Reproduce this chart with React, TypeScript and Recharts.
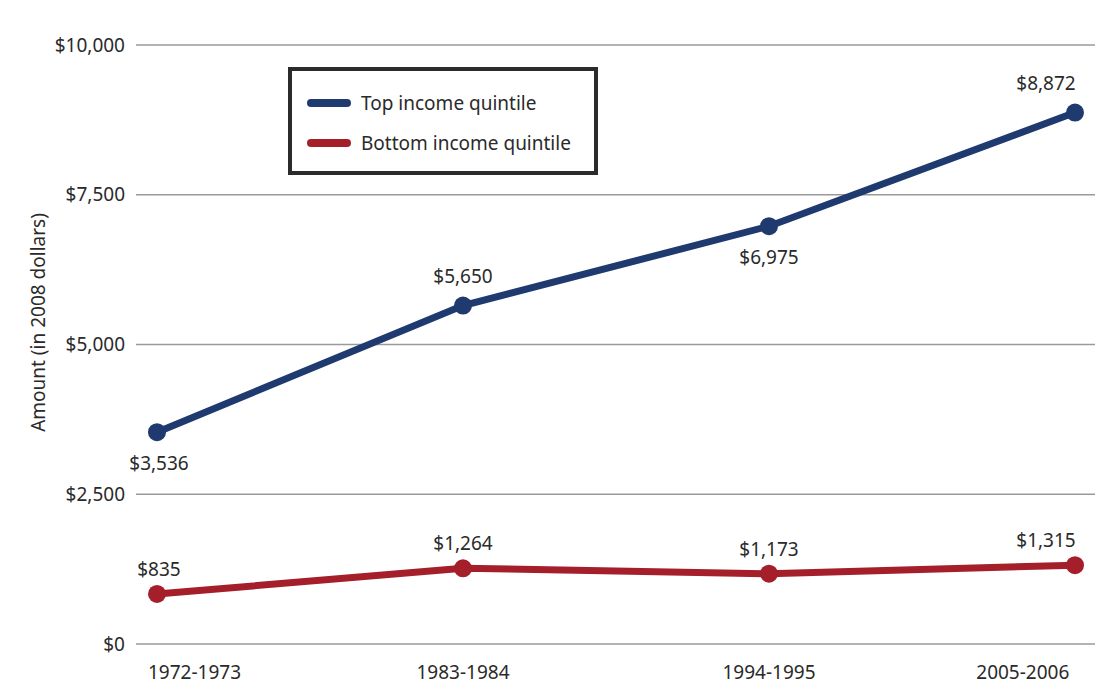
import { LineChart, Line, XAxis, YAxis, CartesianGrid, Legend, LabelList } from "recharts";

const periods = ["1972-1973", "1983-1984", "1994-1995", "2005-2006"];
const topQuintile = [3536, 5650, 6975, 8872];
const bottomQuintile = [835, 1264, 1173, 1315];
const yTicks = [0, 2500, 5000, 7500, 10000];

const data = periods.map((period, i) => ({
  period,
  top: topQuintile[i],
  bottom: bottomQuintile[i],
}));

const FONT = "'Noto Sans', 'Open Sans', sans-serif";
const TEXT = "#2a2a2a";
const NAVY = "#1f3a6e";
const RED = "#a51f2b";

const money = (v: number) => "$" + v.toLocaleString("en-US");

// which points get their label below the dot
const topBelow = [true, false, true, false];
const bottomBelow = [false, false, false, false];

function makeLabel(below: boolean[], gap: number) {
  return (props: any) => {
    const { x, y, value, index } = props;
    const last = index === periods.length - 1;
    const dx = last ? -29 : index === 0 ? 2 : 0;
    const isBelow = below[index];
    return (
      <text
        x={x + dx}
        y={isBelow ? y + 38 : y - gap}
        textAnchor="middle"
        fontFamily={FONT}
        fontSize={19}
        fill={TEXT}
      >
        {money(value)}
      </text>
    );
  };
}

// first and last year labels hug the plot edges like the original
function PeriodTick(props: any) {
  const { x, y, payload, index } = props;
  const last = index === periods.length - 1;
  const anchor = index === 0 ? "start" : last ? "end" : "middle";
  const dx = index === 0 ? -9 : last ? 9 : 0;
  return (
    <text x={x + dx} y={y} dy="0.71em" textAnchor={anchor} fontFamily={FONT} fontSize={19} fill={TEXT}>
      {payload.value}
    </text>
  );
}

function renderLegend() {
  const items = [
    { name: "Top income quintile", color: NAVY },
    { name: "Bottom income quintile", color: RED },
  ];
  return (
    <div
      style={{
        boxSizing: "border-box",
        width: "100%",
        height: "100%",
        border: "4px solid #2b2b2b",
        background: "#fff",
        padding: "12px 0 0 15px",
        fontFamily: FONT,
        fontSize: 19,
        color: TEXT,
      }}
    >
      {items.map((it) => (
        <div key={it.name} style={{ display: "flex", alignItems: "center", height: 40 }}>
          <span
            style={{
              display: "inline-block",
              width: 44,
              height: 8,
              borderRadius: 4,
              background: it.color,
              marginRight: 10,
            }}
          />
          <span>{it.name}</span>
        </div>
      ))}
    </div>
  );
}

export default function App() {
  return (
    <div style={{ position: "absolute", left: 0, top: 0, width: 1095, height: 692, background: "#fff" }}>
      <LineChart width={1095} height={692} data={data} margin={{ top: 45, right: 0, left: 20, bottom: 0 }}>
        <CartesianGrid vertical={false} stroke="#9a9a9a" strokeWidth={1.5} />
        <XAxis
          dataKey="period"
          axisLine={false}
          tickLine={false}
          height={48}
          tickMargin={16}
          padding={{ left: 21, right: 20 }}
          tick={<PeriodTick />}
        />
        <YAxis
          domain={[0, 10000]}
          ticks={yTicks}
          width={116}
          axisLine={false}
          tickLine={false}
          tickMargin={5}
          tickFormatter={money}
          tick={{ fontFamily: FONT, fontSize: 19, fill: TEXT }}
          label={{
            value: "Amount (in 2008 dollars)",
            angle: -90,
            position: "insideLeft",
            offset: 18,
            dy: -22,
            style: { fontFamily: FONT, fontSize: 19, fill: TEXT, textAnchor: "middle" },
          }}
        />
        <Legend
          layout="vertical"
          align="center"
          verticalAlign="middle"
          content={renderLegend}
          wrapperStyle={{ left: 288, top: 67, width: 310, height: 108 }}
        />
        <Line
          type="linear"
          dataKey="top"
          name="Top income quintile"
          stroke={NAVY}
          strokeWidth={7}
          dot={{ r: 9, fill: NAVY, stroke: NAVY, strokeWidth: 0 }}
          activeDot={false}
          isAnimationActive={false}
        >
          <LabelList dataKey="top" content={makeLabel(topBelow, 23)} />
        </Line>
        <Line
          type="linear"
          dataKey="bottom"
          name="Bottom income quintile"
          stroke={RED}
          strokeWidth={7}
          dot={{ r: 9, fill: RED, stroke: RED, strokeWidth: 0 }}
          activeDot={false}
          isAnimationActive={false}
        >
          <LabelList dataKey="bottom" content={makeLabel(bottomBelow, 18)} />
        </Line>
      </LineChart>
    </div>
  );
}
